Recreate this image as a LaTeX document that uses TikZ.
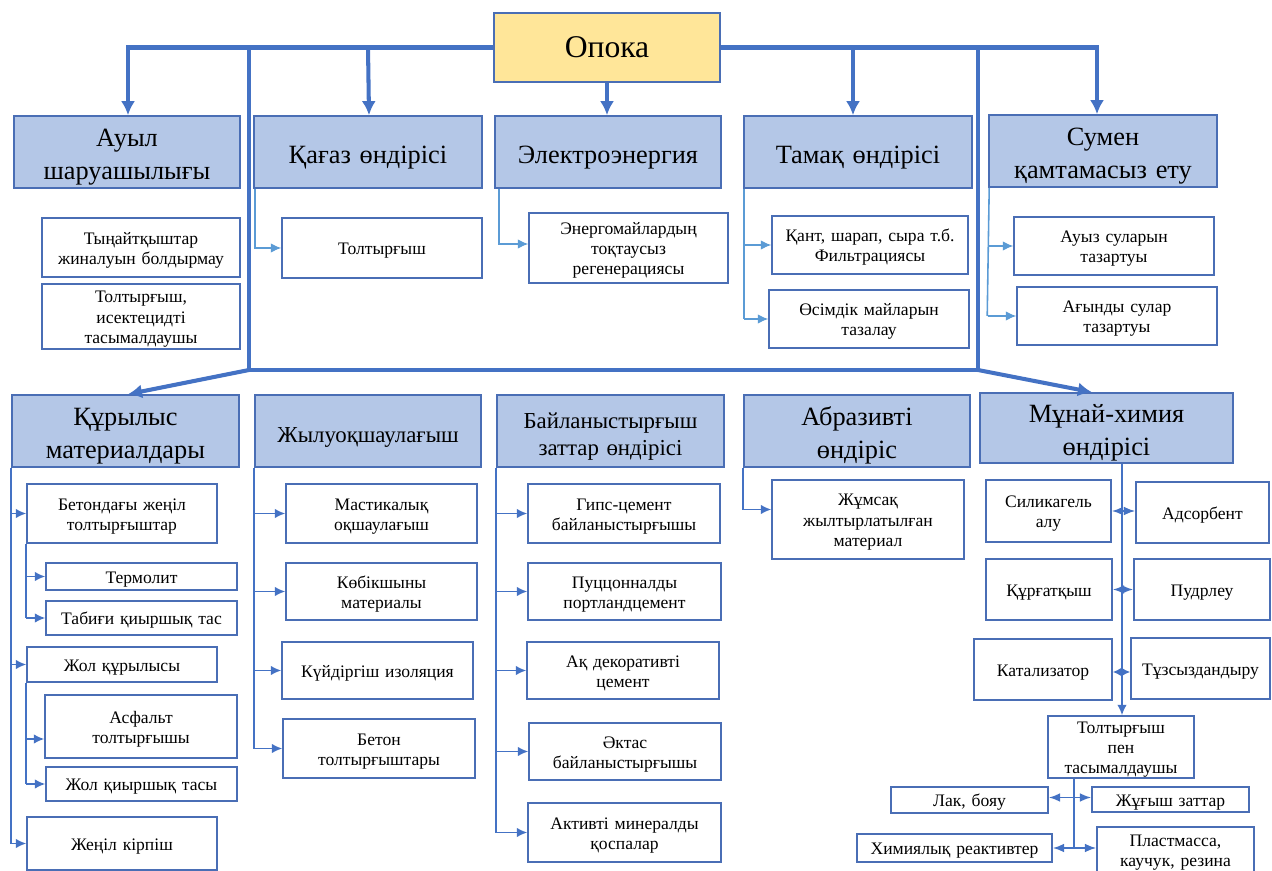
\documentclass[tikz,border=0pt]{standalone}
\usepackage{fontspec}
\setmainfont{Liberation Serif}
\usepackage{xcolor}
\usetikzlibrary{arrows.meta}
\definecolor{lineblue}{HTML}{4472C4}
\definecolor{lightline}{HTML}{5B9BD5}
\definecolor{headfill}{HTML}{B4C7E7}
\definecolor{opokafill}{HTML}{FFE699}
\definecolor{boxline}{HTML}{4A6EB5}
\tikzstyle{head} = [draw=boxline,line width=0.9pt,fill=headfill,align=center,inner sep=0pt,font=\fontsize{15}{18.5}\selectfont,
  execute at begin node={\rule{0pt}{16pt}},execute at end node={\rule[-3.3pt]{0pt}{3.3pt}}]
\tikzstyle{headsmall} = [head,font=\fontsize{13}{15.5}\selectfont,
  execute at begin node={\rule{0pt}{14pt}},execute at end node={\rule[-2.9pt]{0pt}{2.9pt}}]
\tikzstyle{sub} = [draw=boxline,line width=0.8pt,fill=white,align=center,inner sep=0pt,font=\fontsize{10}{11.5}\selectfont,
  execute at begin node={\rule{0pt}{9.8pt}},execute at end node={\rule[-2.2pt]{0pt}{2.2pt}}]
\tikzstyle{busline} = [lineblue,line width=2.3pt]
\tikzstyle{bus} = [busline,-{Latex[length=8pt,width=8pt]}]
\tikzstyle{conn} = [lineblue,line width=1.1pt]
\tikzstyle{carr} = [conn,-{Latex[length=6pt,width=5.5pt]}]
\tikzstyle{dbl} = [conn,{Latex[length=6.5pt,width=5pt]}-{Latex[length=6.5pt,width=5pt]}]
\tikzstyle{dblshort} = [conn,{Latex[length=5pt,width=5pt]}-{Latex[length=5pt,width=5pt]}]
\tikzstyle{lconn} = [lightline,line width=0.9pt]
\tikzstyle{larr} = [lconn,-{Latex[length=6pt,width=5.5pt]}]
\tikzset{wh/.style 2 args={minimum width=#1*0.02cm,text width=#1*0.02cm,minimum height=#2*0.02cm}}

\begin{document}
\begin{tikzpicture}[x=0.02cm,y=-0.02cm]
\useasboundingbox (0,0) rectangle (1272,871);

% root
\node[draw=boxline,line width=0.9pt,fill=opokafill,inner sep=0pt,minimum width=4.52cm,minimum height=1.38cm,font=\fontsize{18}{20}\selectfont] (opoka) at (607,47.5) {Опока};

% upper branches
\node[head,wh={226}{72}] (ayl) at (127,152) {Ауыл\\шаруашылығы};
\node[head,wh={228}{72}] (qagaz) at (368,152) {Қағаз өндірісі};
\node[head,wh={226}{72}] (elec) at (608,152) {Электроэнергия};
\node[head,wh={228}{72}] (tamaq) at (858,152) {Тамақ өндірісі};
\node[head,wh={228}{72}] (sumen) at (1103,151) {Сумен\\қамтамасыз ету};

\node[sub,wh={198}{59}] (tyn) at (141,247.5) {Тыңайтқыштар\\жиналуын болдырмау};
\node[sub,wh={198}{65}] (tolta) at (141,316.5) {Толтырғыш,\\исектецидті\\тасымалдаушы};
\node[sub,wh={200}{60}] (toltq) at (382,248) {Толтырғыш};
\node[sub,wh={199}{70}] (energ) at (628.5,248) {Энергомайлардың\\тоқтаусыз\\регенерациясы};
\node[sub,wh={196}{58}] (qant) at (870,245) {Қант, шарап, сыра т.б.\\Фильтрациясы};
\node[sub,wh={200}{58}] (osim) at (869,319) {Өсімдік майларын\\тазалау};
\node[sub,wh={200}{58}] (auyz) at (1114,246) {Ауыз суларын\\тазартуы};
\node[sub,wh={200}{58}] (agyn) at (1117,316) {Ағынды сулар\\тазартуы};

% lower branches
\node[head,wh={227}{72}] (qurylys) at (125.5,431) {Құрылыс\\материалдары};
\node[headsmall,wh={226}{72}] (zhylu) at (368,431) {Жылуоқшаулағыш};
\node[headsmall,wh={227}{72}] (bail) at (610.5,431) {Байланыстырғыш\\заттар өндірісі};
\node[head,wh={226}{72}] (abraz) at (857,431) {Абразивті\\өндіріс};
\node[head,wh={253}{70}] (munai) at (1106.5,428) {Мұнай-химия\\өндірісі};

\node[sub,wh={190}{59}] (beton) at (122,513.5) {Бетондағы жеңіл\\толтырғыштар};
\node[sub,wh={191}{27}] (termo) at (141.5,576.5) {Термолит};
\node[sub,wh={191}{34}] (tabig) at (141.5,618) {Табиғи қиыршық тас};
\node[sub,wh={190}{35}] (zhol) at (122,664.5) {Жол құрылысы};
\node[sub,wh={192}{63}] (asf) at (141,726.5) {Асфальт\\толтырғышы};
\node[sub,wh={191}{34}] (zholq) at (141.5,784) {Жол қиыршық тасы};
\node[sub,wh={190}{53}] (zhenil) at (122,843.5) {Жеңіл кірпіш};

\node[sub,wh={191}{59}] (mast) at (381.5,513.5) {Мастикалық\\оқшаулағыш};
\node[sub,wh={191}{57}] (kobik) at (381.5,591.5) {Көбікшыны\\материалы};
\node[sub,wh={191}{57}] (kuid) at (377.5,670.5) {Күйдіргіш изоляция};
\node[sub,wh={192}{59}] (betont) at (379,748.5) {Бетон\\толтырғыштары};

\node[sub,wh={192}{59}] (gips) at (624,513.5) {Гипс-цемент\\байланыстырғышы};
\node[sub,wh={193}{57}] (pucc) at (624.5,591.5) {Пуццонналды\\портландцемент};
\node[sub,wh={192}{57}] (aq) at (623,670.5) {Ақ декоративті\\цемент};
\node[sub,wh={192}{57}] (aktas) at (625,751.5) {Әктас\\байланыстырғышы};
\node[sub,wh={193}{59}] (aktiv) at (624.5,832.5) {Активті минералды\\қоспалар};

\node[sub,wh={192}{79}] (zhums) at (868,519.5) {Жұмсақ\\жылтырлатылған\\материал};

\node[sub,wh={125}{62}] (silik) at (1048.5,511) {Силикагель\\алу};
\node[sub,wh={133}{61}] (adsorb) at (1202.5,512.5) {Адсорбент};
\node[sub,wh={126}{61}] (qurgat) at (1049,589.5) {Құрғатқыш};
\node[sub,wh={136}{61}] (pudr) at (1202,589.5) {Пудрлеу};
\node[sub,wh={138}{61}] (katal) at (1043,669.5) {Катализатор};
\node[sub,wh={139}{61}] (tuzs) at (1200.5,668.5) {Тұзсыздандыру};
\node[sub,wh={146}{62}] (toltp) at (1121,747) {Толтырғыш\\пен\\тасымалдаушы};
\node[sub,wh={157}{26}] (lak) at (969.5,800) {Лак, бояу};
\node[sub,wh={157}{25}] (zhug) at (1170.5,799.5) {Жұғыш заттар};
\node[sub,wh={195}{28}] (khim) at (954.5,848) {Химиялық реактивтер};
\node[sub,wh={157}{46}] (plast) at (1175.5,850) {Пластмасса,\\каучук, резина};

% thick bus
\coordinate (tl) at (249,47);
\coordinate (tr) at (978,47);
\coordinate (fl) at (249,370);
\coordinate (fr) at (978,370);
\draw[bus] (opoka.west) -| ([xshift=0.02cm]ayl.north);
\draw[bus] (opoka.east) -| ([xshift=-0.12cm]sumen.north);
\draw[bus] (qagaz.north |- opoka.west) -- ([xshift=0.02cm]qagaz.north);
\draw[bus] (opoka.south) -- (opoka.south |- elec.north);
\draw[bus] ([xshift=-0.1cm]tamaq.north |- opoka.east) -- ([xshift=-0.1cm]tamaq.north);
\draw[busline] (tl) -- (fl) -- (fr) -- (tr);
\draw[bus] (fl) -- ([xshift=0.05cm]qurylys.north);
\draw[bus] (fr) -- ([xshift=-0.29cm]munai.north);

% upper thin links
\draw[larr] ([xshift=0.03cm]qagaz.south west) |- (toltq.west);
\draw[larr] ([xshift=0.1cm]elec.south west) |- ([yshift=0.08cm]energ.west);
\draw[lconn] ([xshift=0.02cm]tamaq.south west) -- ([xshift=0.02cm]tamaq.south west |- osim.west);
\foreach \n in {qant,osim}
  \draw[larr] ([xshift=0.02cm]tamaq.south west |- \n.west) -- (\n.west);
\draw[lconn] ([xshift=0.02cm]sumen.south west) -- ([xshift=-0.02cm]sumen.south west |- agyn.west);
\foreach \n in {auyz,agyn}
  \draw[larr] (sumen.south west |- \n.west) -- (\n.west);

% lower thin links
\draw[conn] (qurylys.south west) -- (qurylys.south west |- zhenil.west);
\foreach \n in {beton,zhol,zhenil}
  \draw[carr] (qurylys.south west |- \n.west) -- (\n.west);
\draw[conn] (beton.south west) -- (beton.south west |- tabig.west);
\foreach \n in {termo,tabig}
  \draw[carr] (beton.south west |- \n.west) -- (\n.west);
\draw[conn] (zhol.south west) -- (zhol.south west |- zholq.west);
\draw[carr] (zhol.south west |- 0,739) -- ([yshift=-0.25cm]asf.west);
\draw[carr] (zhol.south west |- zholq.west) -- (zholq.west);

\draw[conn] (zhylu.south west) -- (zhylu.south west |- betont.west);
\foreach \n in {mast,kobik,kuid,betont}
  \draw[carr] (zhylu.south west |- \n.west) -- (\n.west);

\draw[conn] (bail.south west) -- (bail.south west |- aktiv.west);
\foreach \n in {gips,pucc,aq,aktas,aktiv}
  \draw[carr] (bail.south west |- \n.west) -- (\n.west);

\draw[carr] (abraz.south west) |- ([yshift=0.2cm]zhums.west);

\coordinate (mtop) at ([xshift=0.31cm]munai.south);
\draw[carr] (mtop) -- (mtop |- toltp.north);
\draw[dbl] (silik.east) -- (silik.east -| adsorb.west);
\draw[dbl] (qurgat.east) -- (qurgat.east -| pudr.west);
\draw[dblshort] ([yshift=-0.05cm]katal.east) -- ([yshift=-0.05cm]katal.east -| tuzs.west);
\coordinate (mbot) at ([xshift=-0.94cm]toltp.south);
\draw[conn] (mbot) -- (mbot |- khim.east);
\draw[dbl] ([yshift=0.05cm]lak.east) -- ([yshift=0.05cm]lak.east -| zhug.west);
\draw[dbl] (khim.east) -- (khim.east -| plast.west);
\end{tikzpicture}
\end{document}
